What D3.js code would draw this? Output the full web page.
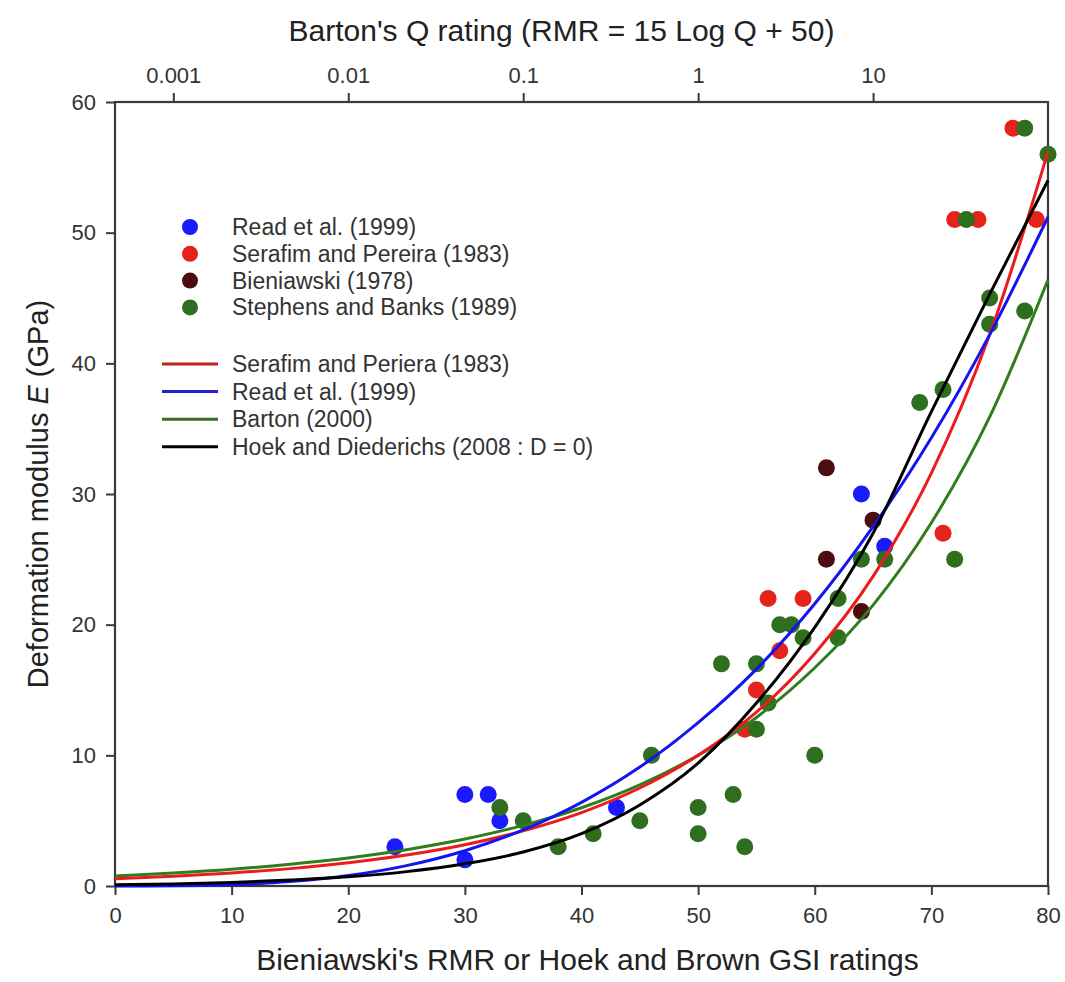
<!DOCTYPE html>
<html>
<head>
<meta charset="utf-8">
<script src="https://cdn.jsdelivr.net/npm/d3@7"></script>
<style>
  body { margin: 0; background: #fff; }
  svg text { font-family: "Liberation Sans", Arial, sans-serif; }
</style>
</head>
<body>
<div id="chart"></div>
<script>
// tick values for the three axes
var rmrTicks = [0, 10, 20, 30, 40, 50, 60, 70, 80];
var eTicks = [0, 10, 20, 30, 40, 50, 60];
var qTicks = [0.001, 0.01, 0.1, 1, 10];
var qLabels = ["0.001", "0.01", "0.1", "1", "10"];

// measured points (RMR / GSI, E in GPa)
var readX = [24, 30, 32, 33, 30, 43, 64, 66];
var readY = [3, 7, 7, 5, 2, 6, 30, 26];
var serafimX = [55, 54, 56, 57, 59, 71, 72, 74, 77, 79];
var serafimY = [15, 12, 22, 18, 22, 27, 51, 51, 58, 51];
var bieniawskiX = [61, 61, 65, 64];
var bieniawskiY = [32, 25, 28, 21];
var stephensX = [33, 35, 38, 41, 45, 46, 50, 50, 52, 53, 54, 55, 55, 56, 57, 58, 59, 60, 62, 62, 64, 66, 69, 71, 72, 73, 75, 75, 78, 78, 80];
var stephensY = [6, 5, 3, 4, 5, 10, 6, 4, 17, 7, 3, 17, 12, 14, 20, 20, 19, 10, 19, 22, 25, 25, 37, 38, 25, 51, 45, 43, 44, 58, 56];

// fitted curves, every 5 rating points
var curveX = [0, 5, 10, 15, 20, 25, 30, 35, 40, 45, 50, 55, 60, 65, 70, 75, 80];
var serafimCurve = [0.56, 0.75, 1.0, 1.33, 1.78, 2.37, 3.16, 4.22, 5.62, 7.5, 10, 13.3, 17.8, 23.7, 31.6, 42.2, 56.2];
var readCurve = [0, 0.01, 0.1, 0.34, 0.8, 1.56, 2.7, 4.29, 6.4, 9.1, 12.5, 16.6, 21.6, 27.5, 34.3, 42.2, 51.2];
var bartonCurve = [0.77, 1.0, 1.29, 1.67, 2.15, 2.78, 3.59, 4.64, 5.99, 7.74, 10, 12.9, 16.7, 21.5, 27.8, 35.9, 46.4];
var hoekCurve = [0.1, 0.15, 0.27, 0.45, 0.7, 1.1, 1.7, 2.6, 4.0, 6.2, 9.4, 14.0, 19.8, 27.0, 36.3, 45.3, 54.0];

var width = 1065, height = 982;
var margin = {top: 102, right: 17, bottom: 96, left: 115};

var svg = d3.select("#chart").append("svg")
    .attr("width", width)
    .attr("height", height);

var x = d3.scaleLinear().domain([0, 80]).range([margin.left, width - margin.right]);
var y = d3.scaleLinear().domain([0, 60]).range([height - margin.bottom, margin.top]);
// RMR = 15 log Q + 50  ->  Q at RMR 0 and RMR 80
var q = d3.scaleLog().domain([Math.pow(10, -50 / 15), Math.pow(10, 30 / 15)]).range([margin.left, width - margin.right]);

var tickColor = "#3a3a3a";

// bottom axis
var xAxis = svg.append("g")
    .attr("transform", `translate(0,${y(0)})`)
    .call(d3.axisBottom(x).tickValues(rmrTicks).tickSize(9).tickSizeOuter(0).tickPadding(12));

// left axis
var yAxis = svg.append("g")
    .attr("transform", `translate(${x(0)},0)`)
    .call(d3.axisLeft(y).tickValues(eTicks).tickSize(9).tickSizeOuter(0).tickPadding(10));

// top axis, Barton's Q
var qAxis = svg.append("g")
    .attr("transform", `translate(0,${y(60)})`)
    .call(d3.axisTop(q).tickValues(qTicks).tickFormat((d, i) => qLabels[i]).tickSize(9).tickSizeOuter(0).tickPadding(10));

[xAxis, yAxis, qAxis].forEach(function(g) {
    g.select(".domain").remove();
    g.selectAll(".tick line").attr("stroke", tickColor).attr("stroke-width", 2);
    g.selectAll(".tick text")
        .attr("fill", "#333")
        .style("font-size", "22px")
        .style("font-family", "'Liberation Sans', Arial, sans-serif");
});

// frame
svg.append("rect")
    .attr("x", x(0))
    .attr("y", y(60))
    .attr("width", x(80) - x(0))
    .attr("height", y(0) - y(60))
    .attr("fill", "none")
    .attr("stroke", tickColor)
    .attr("stroke-width", 2.2);

// scatter groups
var pointSets = [
    {xs: readX, ys: readY, color: "#1a1aff"},
    {xs: serafimX, ys: serafimY, color: "#e5231b"},
    {xs: bieniawskiX, ys: bieniawskiY, color: "#4d0d0f"},
    {xs: stephensX, ys: stephensY, color: "#2f6e1f"}
];

pointSets.forEach(function(s) {
    svg.append("g").selectAll("circle")
        .data(s.xs.map((d, i) => [d, s.ys[i]]))
        .join("circle")
        .attr("cx", d => x(d[0]))
        .attr("cy", d => y(d[1]))
        .attr("r", 8.5)
        .attr("fill", s.color);
});

// fitted curves
var lineSets = [
    {vals: bartonCurve, color: "#2f7d1c"},
    {vals: serafimCurve, color: "#ec1c1c"},
    {vals: readCurve, color: "#1414f0"},
    {vals: hoekCurve, color: "#000"}
];

var line = d3.line()
    .x(d => x(d[0]))
    .y(d => y(d[1]))
    .curve(d3.curveMonotoneX);

lineSets.forEach(function(s) {
    svg.append("path")
        .datum(curveX.map((d, i) => [d, s.vals[i]]))
        .attr("d", line)
        .attr("fill", "none")
        .attr("stroke", s.color)
        .attr("stroke-width", 3);
});

// legend
var pointLegend = [
    {label: "Read et al. (1999)", color: "#1a1aff"},
    {label: "Serafim and Pereira (1983)", color: "#e5231b"},
    {label: "Bieniawski (1978)", color: "#4d0d0f"},
    {label: "Stephens and Banks (1989)", color: "#2f6e1f"}
];
var lineLegend = [
    {label: "Serafim and Periera (1983)", color: "#c0231d"},
    {label: "Read et al. (1999)", color: "#2a1fd0"},
    {label: "Barton (2000)", color: "#3b6b2a"},
    {label: "Hoek and Diederichs (2008 : D = 0)", color: "#000"}
];

var legend = svg.append("g").style("font-size", "23px").attr("fill", "#333");

pointLegend.forEach(function(d, i) {
    var yy = 227 + i * 26.8;
    legend.append("circle").attr("cx", 190).attr("cy", yy).attr("r", 8).attr("fill", d.color);
    legend.append("text").attr("x", 232).attr("y", yy + 8).text(d.label);
});

lineLegend.forEach(function(d, i) {
    var yy = 364 + i * 27.6;
    legend.append("line")
        .attr("x1", 162).attr("x2", 218)
        .attr("y1", yy).attr("y2", yy)
        .attr("stroke", d.color).attr("stroke-width", 3);
    legend.append("text").attr("x", 232).attr("y", yy + 8).text(d.label);
});

// axis titles
svg.append("text")
    .attr("x", (x(0) + x(80)) / 2 - 20)
    .attr("y", 41)
    .attr("text-anchor", "middle")
    .attr("fill", "#222")
    .style("font-size", "30px")
    .text("Barton's Q rating (RMR = 15 Log Q + 50)");

svg.append("text")
    .attr("x", (x(0) + x(80)) / 2 + 6)
    .attr("y", 970)
    .attr("text-anchor", "middle")
    .attr("fill", "#222")
    .style("font-size", "30px")
    .text("Bieniawski's RMR or Hoek and Brown GSI ratings");

var yTitle = svg.append("text")
    .attr("transform", `translate(48,${(y(0) + y(60)) / 2}) rotate(-90)`)
    .attr("text-anchor", "middle")
    .attr("fill", "#222")
    .style("font-size", "29px");
yTitle.append("tspan").text("Deformation modulus ");
yTitle.append("tspan").style("font-style", "italic").text("E");
yTitle.append("tspan").text(" (GPa)");
</script>
</body>
</html>
